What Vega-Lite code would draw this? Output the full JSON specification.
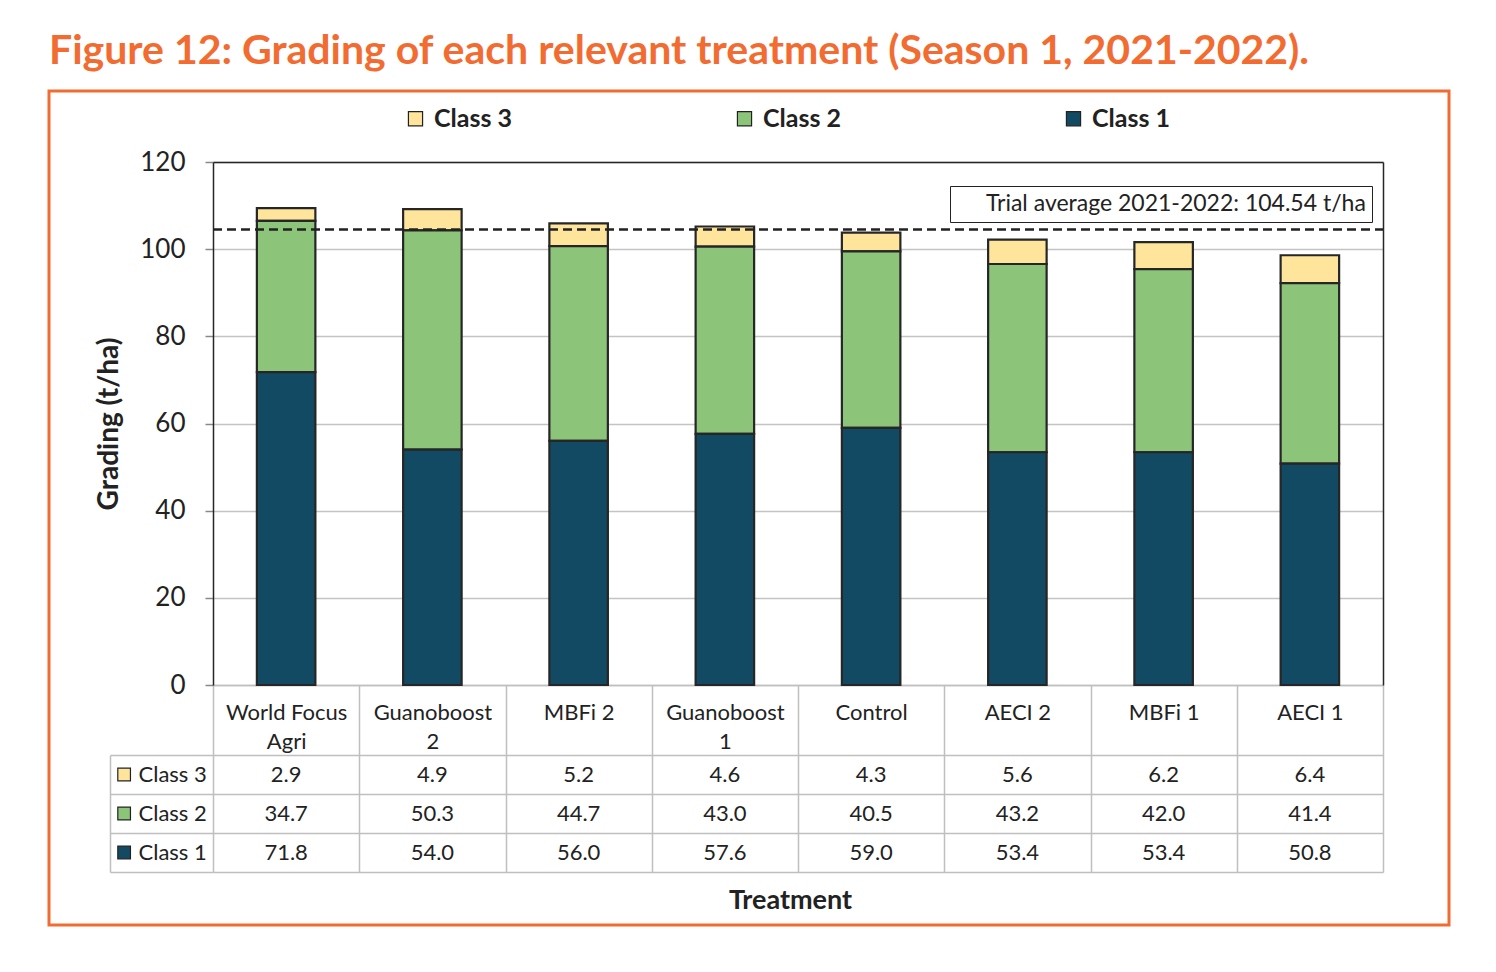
{
  "$schema": "https://vega.github.io/schema/vega-lite/v6.json",
  "width": 1400,
  "height": 834,
  "autosize": {"type": "none"},
  "padding": {"left": 49, "top": 91, "right": 47, "bottom": 47},
  "background": "white",
  "title": {
    "text": "Figure 12: Grading of each relevant treatment (Season 1, 2021-2022).",
    "anchor": "start",
    "frame": "group",
    "font": "Lato",
    "fontSize": 41,
    "fontWeight": "bold",
    "color": "#f26c32",
    "offset": 7
  },
  "config": {
    "font": "Lato",
    "view": {"stroke": "#f26c32", "strokeWidth": 3},
    "axis": {"labelFont": "Lato", "titleFont": "Lato"},
    "legend": {"labelFont": "Lato"}
  },
  "datasets": {
    "grades": [
      {"treatment": "World Focus Agri", "class": "Class 3", "value": 2.9},
      {"treatment": "World Focus Agri", "class": "Class 2", "value": 34.7},
      {"treatment": "World Focus Agri", "class": "Class 1", "value": 71.8},
      {"treatment": "Guanoboost 2", "class": "Class 3", "value": 4.9},
      {"treatment": "Guanoboost 2", "class": "Class 2", "value": 50.3},
      {"treatment": "Guanoboost 2", "class": "Class 1", "value": 54.0},
      {"treatment": "MBFi 2", "class": "Class 3", "value": 5.2},
      {"treatment": "MBFi 2", "class": "Class 2", "value": 44.7},
      {"treatment": "MBFi 2", "class": "Class 1", "value": 56.0},
      {"treatment": "Guanoboost 1", "class": "Class 3", "value": 4.6},
      {"treatment": "Guanoboost 1", "class": "Class 2", "value": 43.0},
      {"treatment": "Guanoboost 1", "class": "Class 1", "value": 57.6},
      {"treatment": "Control", "class": "Class 3", "value": 4.3},
      {"treatment": "Control", "class": "Class 2", "value": 40.5},
      {"treatment": "Control", "class": "Class 1", "value": 59.0},
      {"treatment": "AECI 2", "class": "Class 3", "value": 5.6},
      {"treatment": "AECI 2", "class": "Class 2", "value": 43.2},
      {"treatment": "AECI 2", "class": "Class 1", "value": 53.4},
      {"treatment": "MBFi 1", "class": "Class 3", "value": 6.2},
      {"treatment": "MBFi 1", "class": "Class 2", "value": 42.0},
      {"treatment": "MBFi 1", "class": "Class 1", "value": 53.4},
      {"treatment": "AECI 1", "class": "Class 3", "value": 6.4},
      {"treatment": "AECI 1", "class": "Class 2", "value": 41.4},
      {"treatment": "AECI 1", "class": "Class 1", "value": 50.8}
    ],
    "average": [
      {"label": "Trial average 2021-2022: 104.54 t/ha", "value": 104.54}
    ]
  },
  "data": {"name": "grades"},
  "layer": [
    {
      "mark": {"type": "bar", "width": {"band": 0.4}, "stroke": "#262626", "strokeWidth": 2.2},
      "encoding": {
        "x": {
          "field": "treatment",
          "type": "nominal",
          "sort": null,
          "scale": {
            "domain": ["World Focus Agri", "Guanoboost 2", "MBFi 2", "Guanoboost 1", "Control", "AECI 2", "MBFi 1", "AECI 1"],
            "range": [164, 1334],
            "paddingInner": 0,
            "paddingOuter": 0
          },
          "axis": {
            "orient": "bottom",
            "offset": -240,
            "tickBand": "extent",
            "tickSize": 187,
            "tickColor": "#bfbfbf",
            "tickWidth": 1.5,
            "domainColor": "#bfbfbf",
            "domainWidth": 1.5,
            "grid": false,
            "labelAngle": 0,
            "labelFontSize": 22,
            "labelColor": "#222",
            "labelPadding": -160,
            "labelBaseline": "middle",
            "labelLineHeight": 29,
            "labelOverlap": false,
            "labelExpr": "datum.label == 'World Focus Agri' ? ['World Focus', 'Agri'] : (indexof(datum.label, 'Guanoboost') == 0 ? ['Guanoboost', replace(datum.label, 'Guanoboost ', '')] : datum.label)",
            "title": "Treatment",
            "titleFontSize": 27,
            "titleFontWeight": "bold",
            "titleColor": "#222",
            "titlePadding": 15,
            "titleX": 741
          }
        },
        "y": {
          "field": "value",
          "type": "quantitative",
          "stack": "zero",
          "scale": {"domain": [0, 120], "range": [594, 71], "nice": false},
          "axis": {
            "orient": "left",
            "offset": -164,
            "values": [0, 20, 40, 60, 80, 100, 120],
            "grid": true,
            "gridColor": "#c4c4c4",
            "gridWidth": 1.5,
            "domainColor": "#262626",
            "domainWidth": 1.5,
            "tickColor": "#888",
            "tickSize": 8,
            "tickWidth": 1.5,
            "labelFontSize": 26,
            "labelColor": "#222",
            "labelPadding": 20,
            "title": "Grading (t/ha)",
            "titleFontSize": 28,
            "titleFontWeight": "bold",
            "titleColor": "#222",
            "titlePadding": 16
          }
        },
        "color": {
          "field": "class",
          "type": "nominal",
          "scale": {
            "domain": ["Class 3", "Class 2", "Class 1"],
            "range": ["#ffe49c", "#8cc47a", "#134a63"]
          },
          "legend": {
            "orient": "none",
            "legendX": 354,
            "legendY": 15,
            "direction": "horizontal",
            "title": null,
            "symbolType": "square",
            "symbolSize": 200,
            "symbolStrokeColor": "#222",
            "symbolStrokeWidth": 1.2,
            "labelFontSize": 25,
            "labelFontWeight": "bold",
            "labelColor": "#222",
            "labelOffset": 6,
            "columnPadding": 220
          }
        },
        "order": {"field": "class", "type": "ordinal", "sort": "ascending"}
      }
    },
    {
      "data": {"name": "average"},
      "mark": {"type": "rule", "color": "#222", "strokeWidth": 2.5},
      "encoding": {
        "x": {
          "datum": "World Focus Agri",
          "type": "nominal",
          "bandPosition": 0,
          "axis": {
            "orient": "top",
            "offset": -71,
            "domain": true,
            "domainColor": "#262626",
            "domainWidth": 1.5,
            "ticks": false,
            "labels": false,
            "grid": false,
            "title": null
          }
        },
        "x2": {"datum": "AECI 1", "bandPosition": 1},
        "y": {
          "field": "value",
          "type": "quantitative",
          "scale": {"domain": [0, 120], "range": [594, 71], "nice": false},
          "axis": {
            "orient": "right",
            "offset": -66,
            "domain": true,
            "domainColor": "#262626",
            "domainWidth": 1.5,
            "ticks": false,
            "labels": false,
            "grid": false,
            "title": null
          }
        },
        "strokeDash": {
          "field": "label",
          "type": "nominal",
          "scale": {"range": [[9, 5]]},
          "legend": {
            "orient": "none",
            "legendX": 901,
            "legendY": 95,
            "title": null,
            "strokeColor": "#222",
            "fillColor": "white",
            "padding": 6,
            "symbolType": "stroke",
            "symbolSize": 400,
            "symbolOpacity": 0,
            "labelFontSize": 23,
            "labelColor": "#222",
            "labelLimit": 600,
            "labelOffset": 7
          }
        }
      }
    },
    {
      "mark": {"type": "text", "fontSize": 22, "color": "#222"},
      "encoding": {
        "x": {"field": "treatment", "type": "nominal", "sort": null, "axis": null},
        "y": {
          "field": "class",
          "type": "nominal",
          "scale": {"domain": ["Class 3", "Class 2", "Class 1"], "range": [664, 781], "paddingInner": 0, "paddingOuter": 0},
          "axis": {
            "orient": "left",
            "offset": -61,
            "tickBand": "extent",
            "tickSize": -103,
            "tickColor": "#bfbfbf",
            "tickWidth": 1.5,
            "grid": true,
            "gridColor": "#bfbfbf",
            "gridWidth": 1.5,
            "domainColor": "#bfbfbf",
            "domainWidth": 1.5,
            "labelAlign": "left",
            "labelPadding": 75,
            "labelFontSize": 22,
            "labelColor": "#222",
            "title": null
          }
        },
        "text": {"field": "value", "type": "quantitative", "format": ".1f"}
      }
    },
    {
      "transform": [{"filter": "datum.treatment == 'World Focus Agri'"}],
      "mark": {"type": "point", "shape": "square", "filled": true, "opacity": 1, "size": 160, "stroke": "#222", "strokeWidth": 1.2, "xOffset": -162},
      "encoding": {
        "x": {"field": "treatment", "type": "nominal", "sort": null, "axis": null},
        "y": {
          "field": "class",
          "type": "nominal",
          "scale": {"domain": ["Class 3", "Class 2", "Class 1"], "range": [664, 781], "paddingInner": 0, "paddingOuter": 0},
          "axis": null
        },
        "color": {"field": "class", "type": "nominal"}
      }
    }
  ],
  "resolve": {
    "scale": {"y": "independent"},
    "axis": {"x": "independent", "y": "independent"}
  }
}
